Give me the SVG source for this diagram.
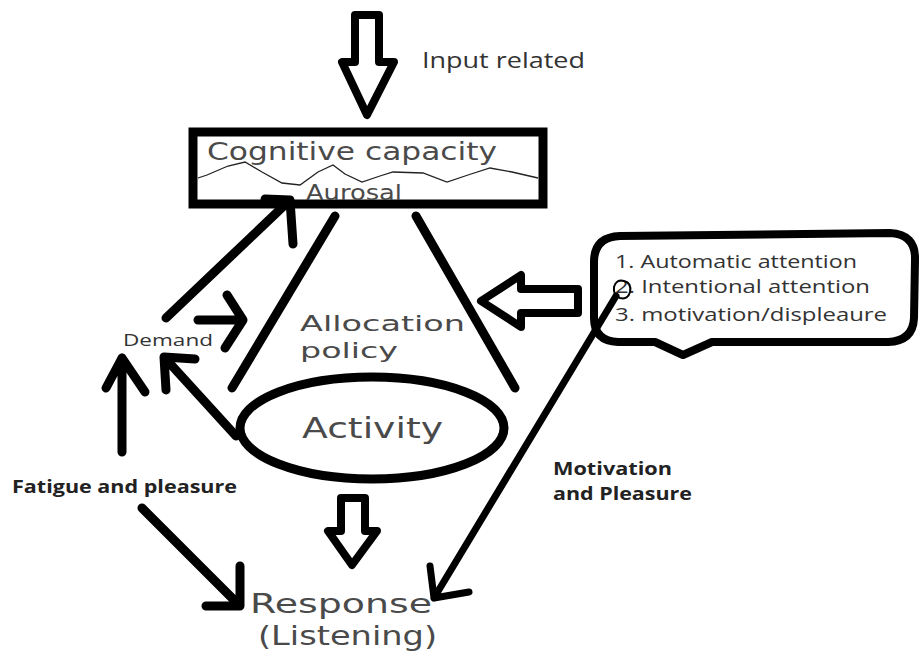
<svg xmlns="http://www.w3.org/2000/svg" width="921" height="655" viewBox="0 0 921 655">
<style>
.ln{fill:none;stroke:#000;stroke-width:9;stroke-linecap:round;stroke-linejoin:round}
.th{fill:none;stroke:#000;stroke-width:7;stroke-linecap:round;stroke-linejoin:round}
.hol{fill:#fff;stroke:#000;stroke-width:8;stroke-linejoin:round}
.main{font-family:"DejaVu Sans",Verdana,sans-serif;fill:#4a4a4a}
.cal{font-family:"Open Sans","Liberation Sans",sans-serif;fill:#333}
.lbl{font-family:"Open Sans","Liberation Sans",sans-serif;fill:#222;font-weight:bold}
</style>
<rect width="921" height="655" fill="#fff"/>
<g id="input-label"><text class="cal" x="422" y="68" font-size="22" textLength="163" lengthAdjust="spacingAndGlyphs">Input related</text></g>
<g id="cognitive-box">
<rect x="193" y="132" width="350" height="72" fill="#fff" stroke="#000" stroke-width="9"/>
<text class="main" x="207" y="160" font-size="24" textLength="290" lengthAdjust="spacingAndGlyphs">Cognitive capacity</text>
<path d="M198,178 L207,175 L228,166 L245,162 L262,172 L282,183 L300,185 L318,172 L333,165 L345,174 L362,182 L380,176 L393,172 L423,173 L447,182 L468,175 L490,168 L512,172 L538,178" fill="none" stroke="#222" stroke-width="1.3"/>
<text class="main" x="306" y="200" font-size="22" textLength="96" lengthAdjust="spacingAndGlyphs">Aurosal</text>
</g>
<g id="allocation">
<text class="main" x="300" y="331" font-size="22" textLength="165" lengthAdjust="spacingAndGlyphs">Allocation</text>
<text class="main" x="300" y="358" font-size="22" textLength="98" lengthAdjust="spacingAndGlyphs">policy</text>
</g>
<g id="activity">
<ellipse cx="372" cy="428" rx="132" ry="51" fill="none" stroke="#000" stroke-width="9"/>
<text class="main" x="302" y="438" font-size="28" textLength="141" lengthAdjust="spacingAndGlyphs">Activity</text>
</g>
<g id="callout">
<path d="M620,236 L890,233 Q916,234 915,260 L914,318 Q913,341 888,342 L712,342 L683,355 L655,342 L618,342 Q594,341 594,318 L594,262 Q594,237 620,236 Z" fill="#fff" stroke="#000" stroke-width="8" stroke-linejoin="round"/>
<text class="cal" x="615" y="268" font-size="18" textLength="242" lengthAdjust="spacingAndGlyphs">1. Automatic attention</text>
<text class="cal" x="615" y="293" font-size="18" textLength="255" lengthAdjust="spacingAndGlyphs">2. Intentional attention</text>
<text class="cal" x="615" y="321" font-size="18" textLength="272" lengthAdjust="spacingAndGlyphs">3. motivation/displeaure</text>
</g>
<g id="demand"><text class="cal" x="123" y="346" font-size="17" textLength="90" lengthAdjust="spacingAndGlyphs" fill="#111">Demand</text></g>
<g id="fatigue"><text class="lbl" x="12" y="493" font-size="17" textLength="225" lengthAdjust="spacingAndGlyphs">Fatigue and pleasure</text></g>
<g id="motivation">
<text class="lbl" x="553" y="475" font-size="17" textLength="119" lengthAdjust="spacingAndGlyphs">Motivation</text>
<text class="lbl" x="553" y="500" font-size="17" textLength="139" lengthAdjust="spacingAndGlyphs">and Pleasure</text>
</g>
<g id="response">
<text class="main" x="250" y="613" font-size="26" textLength="182" lengthAdjust="spacingAndGlyphs">Response</text>
<text class="main" x="258" y="645" font-size="26" textLength="179" lengthAdjust="spacingAndGlyphs">(Listening)</text>
</g>
<g id="connectors">
<polygon class="hol" points="355,15 379,15 379,62 394,62 367,115 342,62 355,62"/>
<polygon class="hol" points="578,289 578,313 521,313 521,327 481,301 521,275 521,289"/>
<polygon class="hol" points="341,498 365,498 365,531 377,531 352,565 328,531 341,531"/>
<path class="ln" d="M335,216 L232,388"/>
<path class="ln" d="M416,216 L515,388"/>
<path class="ln" d="M166,318 L290,200 M265,199 L290,200 L293,244"/>
<path class="ln" d="M198,320 L243,320 M227,295 L243,320 L225,348"/>
<path class="ln" d="M236,436 L164,357 M195,359 L164,357 L166,390"/>
<path class="ln" d="M122,452 L122,358 M106,388 L122,358 L145,392"/>
<path class="ln" d="M142,508 L240,606 M240,566 L240,606 M206,606 L240,606"/>
<path class="th" d="M616,296 L434,598 M430,566 L434,598 L469,592"/>
<path d="M614,287 Q616,279 624,281 Q632,283 630,292 Q628,300 620,298 Q613,296 614,287 Z" fill="none" stroke="#000" stroke-width="2"/>
</g>
</svg>
